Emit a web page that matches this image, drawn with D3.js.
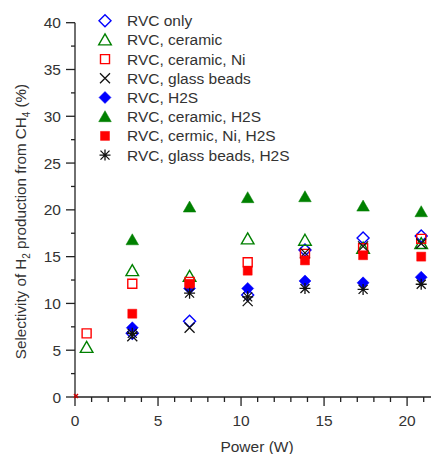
<!DOCTYPE html>
<html>
<head>
<meta charset="utf-8">
<script src="https://cdn.jsdelivr.net/npm/d3@7"></script>
<style>
  body { margin: 0; background: #fff; }
  svg { font-family: "Liberation Sans", Arial, sans-serif; }
</style>
</head>
<body>
<div id="chart"></div>
<script>
// power (W) for each measurement
const powers = [0.7, 3.45, 6.9, 10.4, 13.85, 17.35, 20.85];

const rvcOnly = [null, 6.8, 8.1, 10.9, 15.7, 17.0, 17.2];
const rvcCeramic = [5.3, 13.5, 12.9, 16.9, 16.75, 15.9, 16.4];
const rvcCeramicNi = [6.8, 12.1, 12.3, 14.4, 15.3, 15.9, 16.9];
const rvcGlass = [null, 6.5, 7.4, 10.25, 15.4, 16.1, 16.4];
const rvcH2S = [null, 7.4, 11.6, 11.6, 12.4, 12.2, 12.8];
const rvcCeramicH2S = [null, 16.8, 20.3, 21.3, 21.4, 20.4, 19.8];
const rvcCermicNiH2S = [null, 8.9, 12.1, 13.5, 14.6, 15.15, 15.0];
const rvcGlassH2S = [null, 6.8, 11.1, 10.7, 11.6, 11.5, 12.05];

const seriesNames = [
  "RVC only",
  "RVC, ceramic",
  "RVC, ceramic, Ni",
  "RVC, glass beads",
  "RVC, H2S",
  "RVC, ceramic, H2S",
  "RVC, cermic, Ni, H2S",
  "RVC, glass beads, H2S",
];
const seriesValues = [
  rvcOnly, rvcCeramic, rvcCeramicNi, rvcGlass,
  rvcH2S, rvcCeramicH2S, rvcCermicNiH2S, rvcGlassH2S,
];

const xTicks = [0, 5, 10, 15, 20];
const yTicks = [0, 5, 10, 15, 20, 25, 30, 35, 40];

// marker styles per series
const styles = [
  { shape: "diamond", color: "#0000ff", fill: false },
  { shape: "triangle", color: "#008000", fill: false },
  { shape: "square", color: "#ff0000", fill: false },
  { shape: "x", color: "#111", fill: false },
  { shape: "diamond", color: "#0000ff", fill: true },
  { shape: "triangle", color: "#008000", fill: true },
  { shape: "square", color: "#ff0000", fill: true },
  { shape: "star", color: "#111", fill: false },
];

const W = 431, H = 454;
const svg = d3.select("#chart").append("svg")
  .attr("width", W).attr("height", H);

const x = d3.scaleLinear().domain([0, 21.5]).range([75, 432]);
const y = d3.scaleLinear().domain([0, 40]).range([397, 22.7]);

function markerPath(shape) {
  switch (shape) {
    case "diamond": return "M0,-6L6,0L0,6L-6,0Z";
    case "triangle": return "M0,-6L6.3,5L-6.3,5Z";
    case "square": return "M-4.5,-4.5H4.5V4.5H-4.5Z";
    case "x": return "M-5,-5L5,5M5,-5L-5,5";
    case "star": return "M-4.5,-4.5L4.5,4.5M4.5,-4.5L-4.5,4.5M0,-5.5V5.5M-5.5,0H5.5";
  }
}
function styleMarker(sel, st) {
  const line = st.shape === "x" || st.shape === "star";
  sel.attr("d", markerPath(st.shape))
    .attr("fill", st.fill ? st.color : "none")
    .attr("stroke", st.color)
    .attr("stroke-width", st.fill ? 0.5 : (line ? 1.3 : 1.4));
}

// axes
const axisColor = "#222";
const g = svg.append("g");

// y axis
g.append("line").attr("x1", x(0)).attr("x2", x(0))
  .attr("y1", y(40)).attr("y2", y(0) + 0.5)
  .attr("stroke", axisColor).attr("stroke-width", 1.3);
const yMinor = d3.range(2.5, 40, 5);
g.selectAll(".ymaj").data(yTicks).join("line")
  .attr("x1", x(0) - 9).attr("x2", x(0))
  .attr("y1", d => y(d)).attr("y2", d => y(d))
  .attr("stroke", axisColor).attr("stroke-width", 1.3);
g.selectAll(".ymin").data(yMinor).join("line")
  .attr("x1", x(0) - 4).attr("x2", x(0))
  .attr("y1", d => y(d)).attr("y2", d => y(d))
  .attr("stroke", axisColor).attr("stroke-width", 1.3);
g.selectAll(".ylab").data(yTicks).join("text")
  .attr("x", x(0) - 14).attr("y", d => y(d) + 5.5)
  .attr("text-anchor", "end").attr("font-size", 15.5).attr("fill", "#333")
  .text(d => d);

// x axis
g.append("line").attr("x1", x(0) - 0.5).attr("x2", x(21.5))
  .attr("y1", y(0)).attr("y2", y(0))
  .attr("stroke", axisColor).attr("stroke-width", 1.3);
const xMinor = d3.range(1, 22).filter(d => d % 5 !== 0);
g.selectAll(".xmaj").data(xTicks).join("line")
  .attr("x1", d => x(d)).attr("x2", d => x(d))
  .attr("y1", y(0)).attr("y2", y(0) + 9)
  .attr("stroke", axisColor).attr("stroke-width", 1.3);
g.selectAll(".xmin").data(xMinor).join("line")
  .attr("x1", d => x(d)).attr("x2", d => x(d))
  .attr("y1", y(0)).attr("y2", y(0) + 5)
  .attr("stroke", axisColor).attr("stroke-width", 1.3);
g.selectAll(".xlab").data(xTicks).join("text")
  .attr("x", d => x(d)).attr("y", 426)
  .attr("text-anchor", "middle").attr("font-size", 15.5).attr("fill", "#333")
  .text(d => d);

// axis titles
svg.append("text")
  .attr("x", 257).attr("y", 452)
  .attr("text-anchor", "middle").attr("font-size", 15.5).attr("fill", "#333")
  .text("Power (W)");

const yt = svg.append("text")
  .attr("transform", "translate(26,221.5) rotate(-90)")
  .attr("text-anchor", "middle").attr("font-size", 15.2).attr("fill", "#333");
yt.append("tspan").text("Selectivity of H");
yt.append("tspan").attr("font-size", 10).attr("dy", 4).text("2");
yt.append("tspan").attr("dy", -4).text(" production from CH");
yt.append("tspan").attr("font-size", 10).attr("dy", 4).text("4");
yt.append("tspan").attr("dy", -4).text(" (%)");

// origin point
const origin = [[0, 0]];
svg.selectAll(".orig").data(origin).join("path")
  .attr("transform", d => `translate(${x(d[0]) + 1},${y(d[1]) - 1})`)
  .attr("d", "M-2,-2L2,2M2,-2L-2,2")
  .attr("stroke", "#c00").attr("stroke-width", 1.5);

// points
seriesValues.forEach((vals, i) => {
  const pts = powers.map((p, j) => [p, vals[j]]).filter(d => d[1] != null);
  svg.append("g").selectAll("path").data(pts).join("path")
    .attr("transform", d => `translate(${x(d[0])},${y(d[1])})`)
    .call(styleMarker, styles[i]);
});

// legend
const legend = svg.append("g");
seriesNames.forEach((name, i) => {
  const yy = 20.7 + 19.2 * i;
  legend.append("path")
    .attr("transform", `translate(105,${yy})`)
    .call(styleMarker, styles[i]);
  legend.append("text")
    .attr("x", 127).attr("y", yy + 5.5)
    .attr("font-size", 15.5).attr("fill", "#333")
    .text(name);
});
</script>
</body>
</html>
